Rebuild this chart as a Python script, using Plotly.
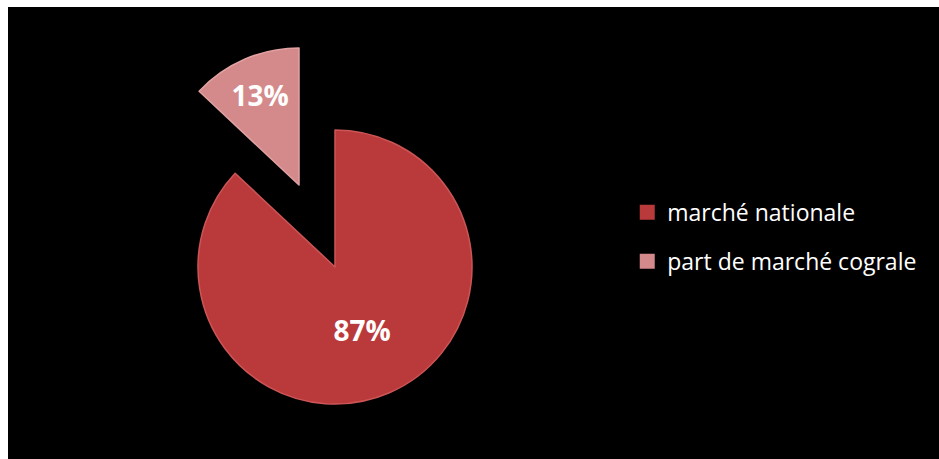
import plotly.graph_objects as go

labels = ["marché nationale", "part de marché cograle"]
values = [87, 13]
pct_text = ["87%", "13%"]
colors = ["#BA3A3B", "#D4898A"]
edge_colors = ["#CC5556", "#E2A2A2"]

W, H = 939, 459

def dom(cx, cy, r):
    return dict(x=[(cx - r) / W, (cx + r) / W], y=[1 - (cy + r) / H, 1 - (cy - r) / H])

clear = "rgba(0,0,0,0)"
fig = go.Figure()

# main slice (87%), the other slice hidden
fig.add_trace(go.Pie(
    labels=labels, values=values, sort=False, direction="clockwise", rotation=0,
    marker=dict(colors=[colors[0], clear], line=dict(color=[edge_colors[0], clear], width=1.5)),
    text=[pct_text[0], ""], textinfo="text", textposition="inside",
    insidetextfont=dict(family="Open Sans", size=28, color="white", weight="bold"),
    domain=dom(335, 267, 137), showlegend=False, hoverinfo="skip",
))
# exploded slice (13%), the other slice hidden
fig.add_trace(go.Pie(
    labels=labels, values=values, sort=False, direction="clockwise", rotation=0,
    marker=dict(colors=[clear, colors[1]], line=dict(color=[clear, edge_colors[1]], width=1.5)),
    text=["", pct_text[1]], textinfo="text", textposition="inside",
    insidetextfont=dict(family="Open Sans", size=28, color="white", weight="bold"),
    domain=dom(299, 185, 137), showlegend=False, hoverinfo="skip",
))

# legend entries
for i, lab in enumerate(labels):
    fig.add_trace(go.Scatter(
        x=[None], y=[None], mode="markers", name=lab, legendgroup=str(i),
        marker=dict(symbol="square", size=15, color=colors[i]),
    ))

fig.update_layout(
    width=W, height=H, margin=dict(l=0, r=0, t=0, b=0),
    paper_bgcolor="black", plot_bgcolor="black",
    xaxis=dict(visible=False), yaxis=dict(visible=False),
    legend=dict(x=0.668, y=0.484, xanchor="left", yanchor="middle",
                font=dict(family="Open Sans", size=23, color="white"),
                bgcolor="rgba(0,0,0,0)", tracegroupgap=16, itemsizing="trace",
                itemwidth=30),
    shapes=[
        dict(type="rect", xref="paper", yref="paper", x0=0, x1=8 / W, y0=0, y1=1,
             fillcolor="white", line=dict(width=0), layer="above"),
        dict(type="rect", xref="paper", yref="paper", x0=0, x1=1, y0=1 - 7 / H, y1=1,
             fillcolor="white", line=dict(width=0), layer="above"),
    ],
)

fig.write_html("out.html")
